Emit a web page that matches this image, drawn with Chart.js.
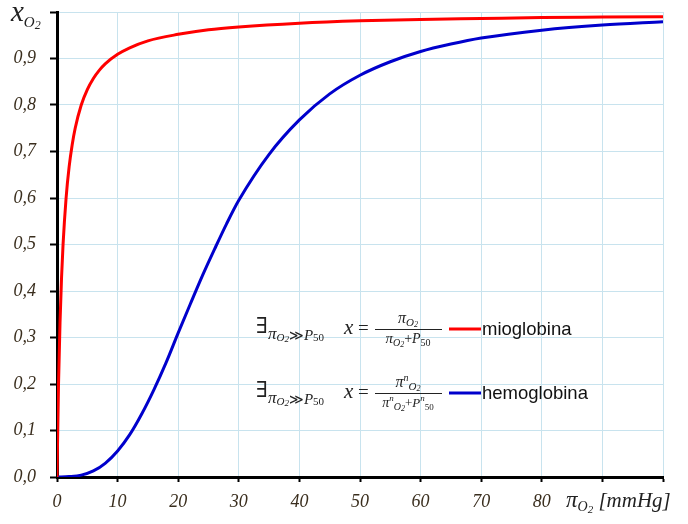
<!DOCTYPE html>
<html>
<head>
<meta charset="utf-8">
<script src="https://cdn.jsdelivr.net/npm/chart.js@4/dist/chart.umd.min.js"></script>
<style>
  body { margin: 0; background: #fff; }
  canvas { display: block; }
</style>
</head>
<body>
<canvas id="chart" width="688" height="524"></canvas>
<script>
// Oxygen partial pressure (mmHg) and saturation values
const pressureMyo = [0, 0.25, 0.5, 0.75, 1, 1.5, 2, 2.5, 3, 4, 5, 6, 7, 8, 10, 12, 15, 20, 25, 30, 40, 50, 60, 70, 80, 90, 100];
const myoglobin   = [0, 0.20, 0.333, 0.429, 0.50, 0.60, 0.667, 0.714, 0.75, 0.80, 0.833, 0.857, 0.875, 0.889, 0.909, 0.923, 0.938, 0.952, 0.962, 0.968, 0.976, 0.981, 0.984, 0.986, 0.988, 0.989, 0.990];

const pressureHb = [0, 2, 4, 6, 8, 10, 12, 14, 16, 18, 20, 22, 24, 26, 28, 30, 35, 40, 45, 50, 55, 60, 65, 70, 80, 90, 100];
const hemoglobin = [0, 0.001, 0.004, 0.013, 0.030, 0.056, 0.091, 0.136, 0.188, 0.246, 0.310, 0.372, 0.433, 0.490, 0.545, 0.595, 0.694, 0.768, 0.824, 0.864, 0.893, 0.915, 0.931, 0.944, 0.961, 0.972, 0.979];

const xTicksHidden = [90, 100];
const seriesNames = ['mioglobina', 'hemoglobina'];
const seriesColors = ['#ff0000', '#0000cc'];

const tickColor = '#3a2e1e';
const gridColor = '#c8e3ee';

// draws a row of text pieces: [text, size, italic, dy, family]
function drawParts(ctx, x, y, parts, align) {
    const widths = parts.map(p => {
        ctx.font = (p[2] ? 'italic ' : '') + p[1] + 'px ' + (p[4] || '"Liberation Serif"');
        return ctx.measureText(p[0]).width;
    });
    const total = widths.reduce((a, b) => a + b, 0);
    let cx = align === 'center' ? x - total / 2 : x;
    ctx.textAlign = 'left';
    ctx.textBaseline = 'alphabetic';
    parts.forEach((p, i) => {
        ctx.font = (p[2] ? 'italic ' : '') + p[1] + 'px ' + (p[4] || '"Liberation Serif"');
        ctx.fillText(p[0], cx, y + (p[3] || 0));
        cx += widths[i];
    });
    return total;
}

const annotations = {
    id: 'annotations',
    afterDraw(chart) {
        const ctx = chart.ctx;
        ctx.save();
        ctx.fillStyle = '#222';

        // y axis title
        drawParts(ctx, 11, 21, [['x', 29, true], ['O', 15, true, 6], ['2', 12, true, 8]]);
        // x axis title
        drawParts(ctx, 566, 507, [['π', 23, true], ['O', 14, true, 4], ['2', 11, true, 6], [' [mmHg]', 21, true]]);

        // legend rows
        const rows = [
            { y: 329, n: false },
            { y: 393, n: true }
        ];
        rows.forEach((r, i) => {
            ctx.fillStyle = '#222';
            const sub = [['π', 17, true, 6], ['O', 11, true, 8], ['2', 9, true, 9], ['≫', 14, false, 7, '"DejaVu Serif"'], ['P', 15, true, 7], ['50', 11, false, 8]];
            drawParts(ctx, 256, r.y + 4, [['∃', 22, false, 0, '"DejaVu Serif"']].concat(sub));
            drawParts(ctx, 344, r.y + 5, [['x', 21, true], [' = ', 19, false]]);

            const numParts = r.n
                ? [['π', 16, true], ['n', 10, true, -6], ['O', 11, true, 3], ['2', 8, true, 4]]
                : [['π', 16, true], ['O', 11, true, 3], ['2', 8, true, 4]];
            const denParts = r.n
                ? [['π', 14, true], ['n', 9, true, -6], ['O', 10, true, 3], ['2', 8, true, 4], ['+', 13, false], ['P', 13, true], ['n', 9, true, -6], ['50', 9, false, 3]]
                : [['π', 15, true], ['O', 10, true, 3], ['2', 8, true, 4], ['+', 14, false], ['P', 14, true], ['50', 10, false, 3]];
            drawParts(ctx, 408, r.y - 6, numParts, 'center');
            drawParts(ctx, 408, r.y + 14, denParts, 'center');

            ctx.strokeStyle = '#222';
            ctx.lineWidth = 1;
            ctx.beginPath();
            ctx.moveTo(375, r.y + 0.5);
            ctx.lineTo(442, r.y + 0.5);
            ctx.stroke();

            ctx.strokeStyle = seriesColors[i];
            ctx.lineWidth = 3;
            ctx.beginPath();
            ctx.moveTo(449, r.y);
            ctx.lineTo(481, r.y);
            ctx.stroke();

            ctx.fillStyle = '#111';
            ctx.font = '18.5px "Liberation Sans"';
            ctx.textBaseline = 'middle';
            ctx.fillText(seriesNames[i], 482, r.y + 1);
        });
        ctx.restore();
    }
};

const tickFont = { family: '"Liberation Serif"', size: 18, style: 'italic' };

new Chart(document.getElementById('chart'), {
    type: 'line',
    data: {
        datasets: [
            {
                label: seriesNames[0],
                data: pressureMyo.map((p, i) => ({ x: p, y: myoglobin[i] })),
                borderColor: seriesColors[0],
                borderWidth: 3,
                pointRadius: 0,
                cubicInterpolationMode: 'monotone',
                fill: false
            },
            {
                label: seriesNames[1],
                data: pressureHb.map((p, i) => ({ x: p, y: hemoglobin[i] })),
                borderColor: seriesColors[1],
                borderWidth: 3,
                pointRadius: 0,
                cubicInterpolationMode: 'monotone',
                fill: false
            }
        ]
    },
    options: {
        responsive: false,
        animation: false,
        layout: { padding: { top: 12, right: 25, left: 0, bottom: 0 } },
        plugins: {
            legend: { display: false },
            tooltip: { enabled: false }
        },
        scales: {
            x: {
                type: 'linear',
                min: 0,
                max: 100,
                ticks: {
                    stepSize: 10,
                    autoSkip: false,
                    maxRotation: 0,
                    padding: 9,
                    color: tickColor,
                    font: tickFont,
                    callback: v => xTicksHidden.includes(v) ? '' : v
                },
                grid: { color: gridColor, lineWidth: 1, tickLength: 5, tickColor: '#000', tickWidth: 2 },
                border: { color: '#000', width: 3 },
                afterFit: s => { s.height = 47; s.paddingLeft = 0; s.paddingRight = 0; }
            },
            y: {
                min: 0,
                max: 1,
                ticks: {
                    stepSize: 0.1,
                    padding: 14,
                    color: tickColor,
                    font: tickFont,
                    callback: v => v > 0.95 ? '' : v.toFixed(1).replace('.', ',')
                },
                grid: { color: gridColor, lineWidth: 1, tickLength: 7, tickColor: '#000', tickWidth: 2 },
                border: { color: '#000', width: 3 },
                afterFit: s => { s.width = 57; s.paddingTop = 0; s.paddingBottom = 0; }
            }
        }
    },
    plugins: [annotations]
});
</script>
</body>
</html>
